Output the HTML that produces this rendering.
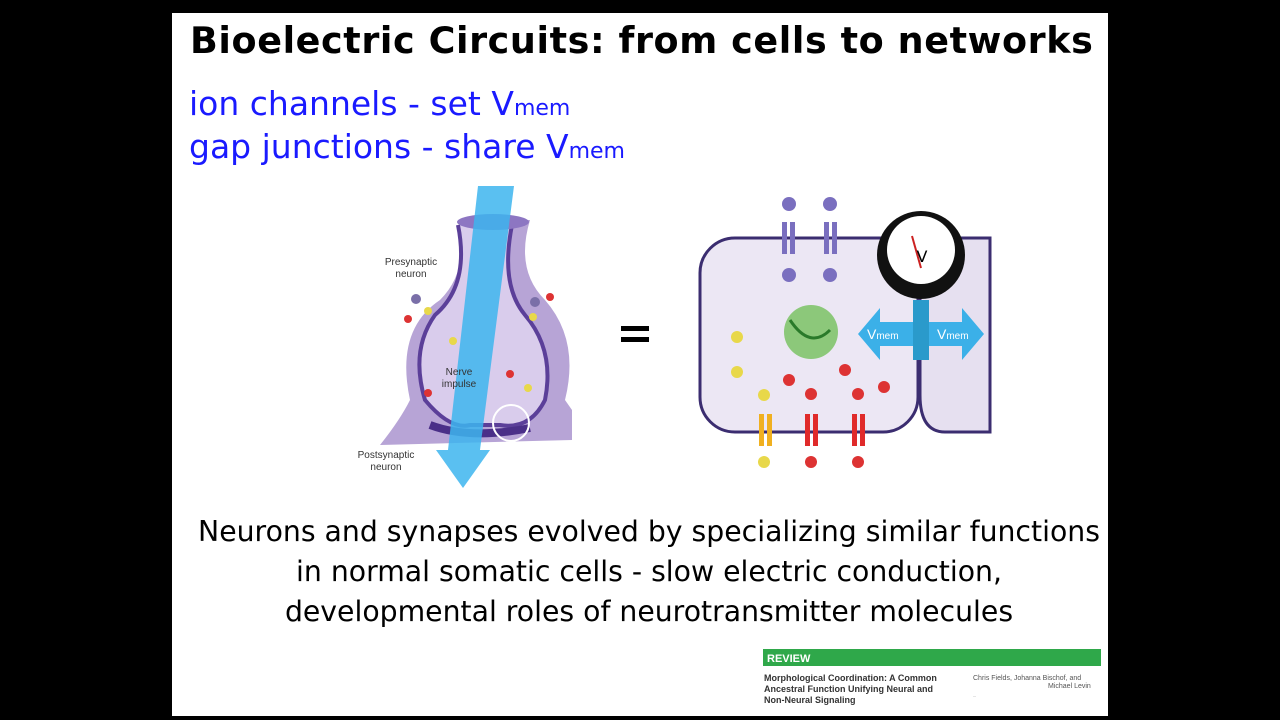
<!DOCTYPE html>
<html><head><meta charset="utf-8"><style>
body{margin:0;width:1280px;height:720px;background:#000;overflow:hidden;position:relative;font-family:"DejaVu Sans","Liberation Sans",sans-serif}
.slide{position:absolute;left:172px;top:13px;width:936px;height:703px;background:#fff}
.t{position:absolute;white-space:nowrap}
</style></head><body>
<div class="slide"></div>
<div class="t" style="left:190px;top:19px;font-size:36.5px;font-weight:bold;color:#000;letter-spacing:0.6px">Bioelectric Circuits: from cells to networks</div>
<div class="t" style="left:189px;top:84px;font-size:33px;color:#1a1aff">ion channels - set V<span style="font-size:22px">mem</span></div>
<div class="t" style="left:189px;top:127px;font-size:33px;color:#1a1aff">gap junctions - share V<span style="font-size:22px">mem</span></div>
<svg class="t" style="left:0;top:0" width="1280" height="720">
<path d="M380,445 Q400,420 410,400 Q395,330 440,300 Q470,270 458,220 L530,220 Q515,270 545,300 Q580,340 565,400 L572,410 L572,440 L380,445 Z" fill="#b7a4d6"/>
<path d="M458,225 Q470,285 435,315 Q410,350 425,400 Q450,430 470,425 L500,425 Q530,430 545,400 Q555,350 525,315 Q500,285 512,225" fill="#d9ccec" stroke="#5b3f99" stroke-width="4"/>
<ellipse cx="493" cy="222" rx="36" ry="8" fill="#8d76c2"/>
<path d="M430,425 Q470,440 530,428" stroke="#4a2f88" stroke-width="8" fill="none"/>
<circle cx="511" cy="423" r="18" fill="none" stroke="#fff" stroke-width="2"/>
<polygon points="478,186 514,186 480,450 490,450 463,488 436,450 448,450" fill="#3db5ee" opacity="0.85"/>
<g font-size="10" fill="#333" text-anchor="middle" font-family="Liberation Sans">
<text x="411" y="265">Presynaptic</text><text x="411" y="277">neuron</text>
<text x="459" y="375">Nerve</text><text x="459" y="387">impulse</text>
<text x="386" y="458">Postsynaptic</text><text x="386" y="470">neuron</text></g>
<g fill="#d33"><circle cx="408" cy="319" r="4"/><circle cx="550" cy="297" r="4"/><circle cx="510" cy="374" r="4"/><circle cx="428" cy="393" r="4"/></g>
<g fill="#e8d84a"><circle cx="428" cy="311" r="4"/><circle cx="533" cy="317" r="4"/><circle cx="453" cy="341" r="4"/><circle cx="528" cy="388" r="4"/></g>
<g fill="#7a6fa8"><circle cx="416" cy="299" r="5"/><circle cx="535" cy="302" r="5"/></g>
<rect x="621" y="326" width="28" height="5" fill="#000"/><rect x="621" y="337" width="28" height="5" fill="#000"/>
<path d="M990,238 L945,238 Q920,238 920,270 L920,395 Q920,432 945,432 L990,432 Z" fill="#e6e0f0" stroke="#3b2d70" stroke-width="3"/>
<rect x="700" y="238" width="218" height="194" rx="35" fill="#ece7f4" stroke="#3b2d70" stroke-width="3"/>
<circle cx="811" cy="332" r="27" fill="#8cc87a"/>
<path d="M790,320 Q810,350 830,330" stroke="#2a7a2a" stroke-width="3" fill="none"/>
<g fill="#7a6fbf"><rect x="782" y="222" width="5" height="32"/><rect x="790" y="222" width="5" height="32"/><rect x="824" y="222" width="5" height="32"/><rect x="832" y="222" width="5" height="32"/>
<circle cx="789" cy="204" r="7"/><circle cx="830" cy="204" r="7"/><circle cx="789" cy="275" r="7"/><circle cx="830" cy="275" r="7"/></g>
<g><rect x="759" y="414" width="5" height="32" fill="#f0b020"/><rect x="767" y="414" width="5" height="32" fill="#f0b020"/>
<rect x="805" y="414" width="5" height="32" fill="#e02a2a"/><rect x="813" y="414" width="5" height="32" fill="#e02a2a"/>
<rect x="852" y="414" width="5" height="32" fill="#e02a2a"/><rect x="860" y="414" width="5" height="32" fill="#e02a2a"/></g>
<g fill="#e8d84a"><circle cx="737" cy="337" r="6"/><circle cx="737" cy="372" r="6"/><circle cx="764" cy="395" r="6"/><circle cx="764" cy="462" r="6"/></g>
<g fill="#d33"><circle cx="789" cy="380" r="6"/><circle cx="811" cy="394" r="6"/><circle cx="858" cy="394" r="6"/><circle cx="845" cy="370" r="6"/><circle cx="884" cy="387" r="6"/><circle cx="811" cy="462" r="6"/><circle cx="858" cy="462" r="6"/></g>
<polygon points="858,334 880,308 880,322 962,322 962,308 984,334 962,360 962,346 880,346 880,360" fill="#3bb0e8"/>
<rect x="913" y="300" width="16" height="60" fill="#2a9acb"/>
<circle cx="921" cy="255" r="44" fill="#111"/><circle cx="921" cy="250" r="34" fill="#fff"/>
<line x1="921" y1="268" x2="912" y2="236" stroke="#c22" stroke-width="2"/>
<text x="922" y="262" font-size="16" text-anchor="middle">V</text>
<g fill="#fff" font-size="14" font-family="Liberation Sans"><text x="867" y="339">V<tspan font-size="10">mem</tspan></text><text x="937" y="339">V<tspan font-size="10">mem</tspan></text></g>
<rect x="763" y="649" width="338" height="17" fill="#2fa84a"/>
<text x="767" y="662" font-size="11" font-weight="bold" fill="#fff" font-family="Liberation Sans">REVIEW</text>
<g font-size="9" fill="#333" font-family="Liberation Sans" font-weight="bold"><text x="764" y="681">Morphological Coordination: A Common</text><text x="764" y="692">Ancestral Function Unifying Neural and</text><text x="764" y="703">Non-Neural Signaling</text></g>
<g font-size="7" fill="#555" font-family="Liberation Sans"><text x="973" y="680">Chris Fields, Johanna Bischof, and</text><text x="1048" y="688">Michael Levin</text><text x="973" y="697" font-size="4">...</text></g>
</svg>
<div class="t" style="left:176px;top:512px;font-size:28.3px;color:#000;text-align:center;width:946px;line-height:40px">Neurons and synapses evolved by specializing similar functions<br>in normal somatic cells - slow electric conduction,<br>developmental roles of neurotransmitter molecules</div>
</body></html>
